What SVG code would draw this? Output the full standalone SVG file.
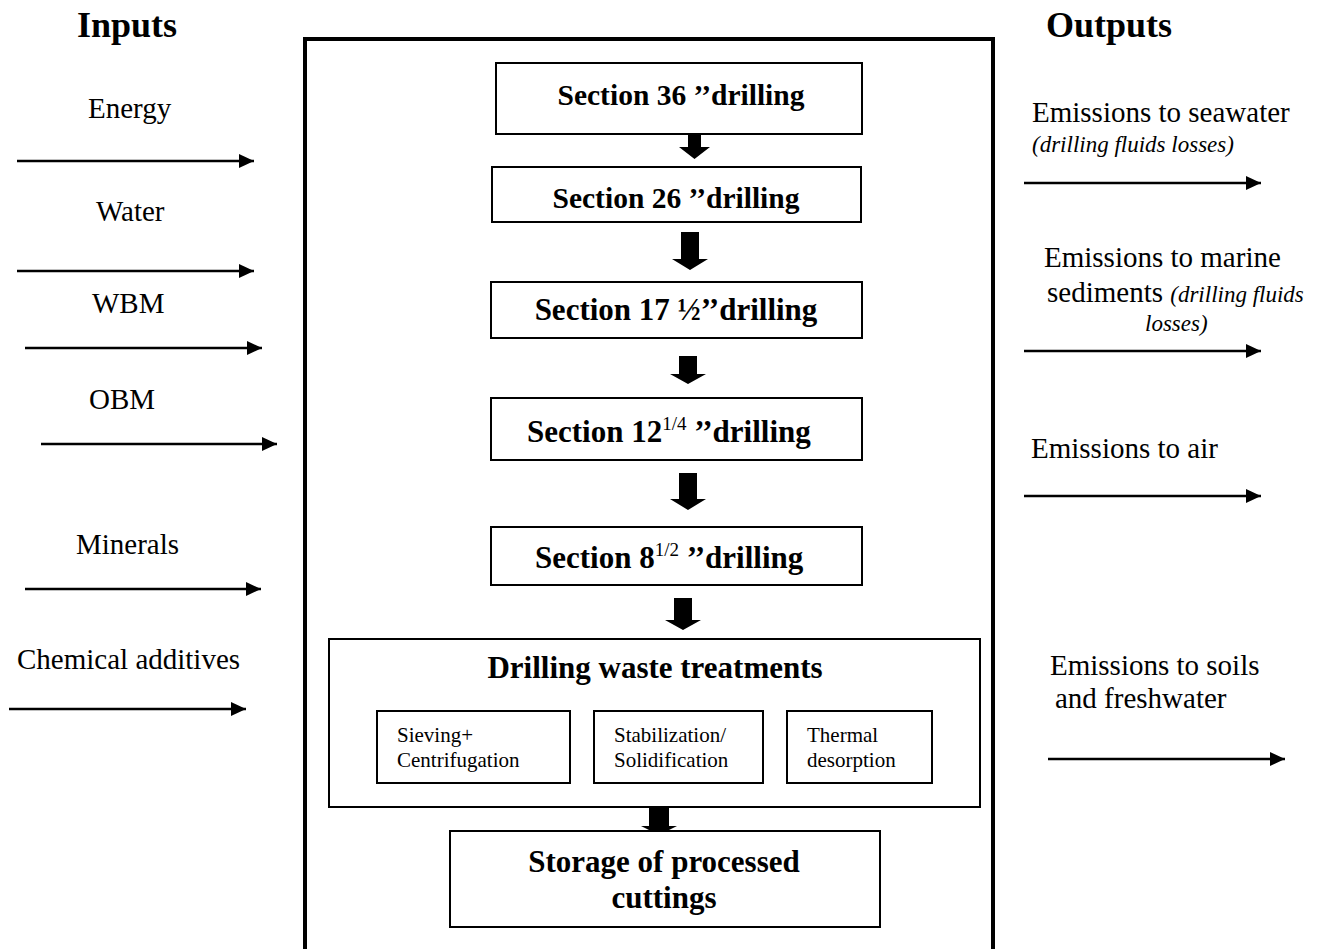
<svg xmlns="http://www.w3.org/2000/svg" width="1325" height="949" viewBox="0 0 1325 949">
<style>
  .bg{fill:#fff}
  .box{fill:#fff;stroke:#000;stroke-width:2}
  .outer{fill:none;stroke:#000;stroke-width:4}
  .lbl{font-family:"Liberation Serif","Times New Roman",serif;font-size:29px;fill:#000}
  .ital{font-family:"Liberation Serif","Times New Roman",serif;font-size:23px;font-style:italic;fill:#000}
  .head{font-family:"Liberation Serif","Times New Roman",serif;font-size:36px;font-weight:bold;fill:#000}
  .bt{font-family:"Liberation Serif","Times New Roman",serif;font-size:29.5px;font-weight:bold;fill:#000}
  .bt2{font-family:"Liberation Serif","Times New Roman",serif;font-size:31px;font-weight:bold;fill:#000}
  .sup{font-size:19px;font-weight:normal}
  .small{font-family:"Liberation Serif","Times New Roman",serif;font-size:21px;fill:#000}
  .conn{stroke:#000;stroke-width:2.5;fill:none;marker-end:url(#ah)}
  .blk{fill:#000;stroke:none}
</style>
<defs>
  <marker id="ah" markerUnits="userSpaceOnUse" markerWidth="16" markerHeight="16" refX="15" refY="7" orient="auto">
    <path d="M0,0 L15,7 L0,14 Z" fill="#000"/>
  </marker>
</defs>
<rect class="bg" x="0" y="0" width="1325" height="949"/>

<text class="head" x="77" y="37">Inputs</text>
<text class="head" x="1046" y="37">Outputs</text>

<rect id="system" class="outer" x="305" y="39" width="688" height="930"/>

<g id="connectors">
  <line class="conn" x1="17" y1="161" x2="254" y2="161"/>
  <line class="conn" x1="17" y1="271" x2="254" y2="271"/>
  <line class="conn" x1="25" y1="348" x2="262" y2="348"/>
  <line class="conn" x1="41" y1="444" x2="277" y2="444"/>
  <line class="conn" x1="25" y1="589" x2="261" y2="589"/>
  <line class="conn" x1="9" y1="709" x2="246" y2="709"/>
  <line class="conn" x1="1024" y1="183" x2="1261" y2="183"/>
  <line class="conn" x1="1024" y1="351" x2="1261" y2="351"/>
  <line class="conn" x1="1024" y1="496" x2="1261" y2="496"/>
  <line class="conn" x1="1048" y1="759" x2="1285" y2="759"/>
  <path class="blk" d="M688,131 L701,131 L701,147 L710,147 L694.5,159 L679,147 L688,147 Z"/>
  <path class="blk" d="M681,232 L699,232 L699,259 L708,259 L690,270 L672,259 L681,259 Z"/>
  <path class="blk" d="M679,356 L697,356 L697,374 L706,374 L688,384 L670,374 L679,374 Z"/>
  <path class="blk" d="M679,473 L697,473 L697,499 L706,499 L688,510 L670,499 L679,499 Z"/>
  <path class="blk" d="M674,598 L692,598 L692,620 L701,620 L683,630 L665,620 L674,620 Z"/>
  <path class="blk" d="M649,807 L669,807 L669,826 L677,826 L659,835 L641,826 L649,826 Z"/>
</g>

<g id="in-energy"><text class="lbl" x="88" y="118">Energy</text></g>
<g id="in-water"><text class="lbl" x="96" y="221">Water</text></g>
<g id="in-wbm"><text class="lbl" x="92" y="313">WBM</text></g>
<g id="in-obm"><text class="lbl" x="89" y="409">OBM</text></g>
<g id="in-minerals"><text class="lbl" x="76" y="554">Minerals</text></g>
<g id="in-chem"><text class="lbl" x="17" y="669">Chemical additives</text></g>

<g id="out-seawater">
  <text class="lbl" x="1032" y="122">Emissions to seawater</text>
  <text class="ital" x="1032" y="152">(drilling fluids losses)</text>
</g>
<g id="out-sediments">
  <text class="lbl" x="1044" y="267">Emissions to marine</text>
  <text x="1047" y="302"><tspan class="lbl">sediments </tspan><tspan class="ital">(drilling fluids</tspan></text>
  <text class="ital" x="1145" y="331">losses)</text>
</g>
<g id="out-air"><text class="lbl" x="1031" y="458">Emissions to air</text></g>
<g id="out-soils">
  <text class="lbl" x="1050" y="675">Emissions to soils</text>
  <text class="lbl" x="1055" y="708">and freshwater</text>
</g>

<g id="sec36">
  <rect class="box" x="496" y="63" width="366" height="71"/>
  <text class="bt" x="681" y="105" text-anchor="middle">Section 36 ’’drilling</text>
</g>
<g id="sec26">
  <rect class="box" x="492" y="167" width="369" height="55"/>
  <text class="bt" x="676" y="208" text-anchor="middle">Section 26 ’’drilling</text>
</g>
<g id="sec17">
  <rect class="box" x="491" y="282" width="371" height="56"/>
  <text class="bt2" x="676" y="320" text-anchor="middle">Section 17 ½’’drilling</text>
</g>
<g id="sec12">
  <rect class="box" x="491" y="398" width="371" height="62"/>
  <text class="bt2" x="527" y="442">Section 12<tspan class="sup" dy="-12">1/4</tspan><tspan dy="12"> ’’drilling</tspan></text>
</g>
<g id="sec8">
  <rect class="box" x="491" y="527" width="371" height="58"/>
  <text class="bt2" x="535" y="568">Section 8<tspan class="sup" dy="-12">1/2</tspan><tspan dy="12"> ’’drilling</tspan></text>
</g>

<g id="treatments">
  <rect class="box" x="329" y="639" width="651" height="168"/>
  <text class="bt2" x="655" y="678" text-anchor="middle">Drilling waste treatments</text>
</g>
<g id="sieving">
  <rect class="box" x="377" y="711" width="193" height="72"/>
  <text class="small" x="397" y="742">Sieving+</text>
  <text class="small" x="397" y="767">Centrifugation</text>
</g>
<g id="stabilization">
  <rect class="box" x="594" y="711" width="169" height="72"/>
  <text class="small" x="614" y="742">Stabilization/</text>
  <text class="small" x="614" y="767">Solidification</text>
</g>
<g id="thermal">
  <rect class="box" x="787" y="711" width="145" height="72"/>
  <text class="small" x="807" y="742">Thermal</text>
  <text class="small" x="807" y="767">desorption</text>
</g>

<g id="storage">
  <rect class="box" x="450" y="831" width="430" height="96"/>
  <text class="bt2" x="664" y="872" text-anchor="middle">Storage of processed</text>
  <text class="bt2" x="664" y="908" text-anchor="middle">cuttings</text>
</g>
</svg>
